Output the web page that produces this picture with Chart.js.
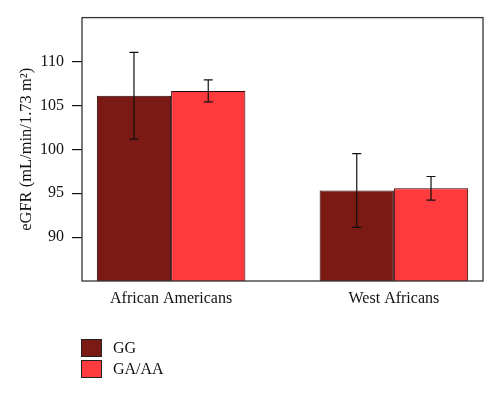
<!DOCTYPE html>
<html>
<head>
<meta charset="utf-8">
<script src="https://cdn.jsdelivr.net/npm/chart.js@4.4.1/dist/chart.umd.min.js"></script>
<style>
  body { margin: 0; background: #fff; }
  #wrap { position: relative; width: 500px; height: 393px; }
  #legend { position: absolute; left: 81px; top: 337px; font-family: "Liberation Serif", serif; font-size: 16px; color: #111; }
  .item { display: flex; align-items: center; height: 21px; }
  .box { width: 19px; height: 16px; border: 1px solid #222; margin-right: 11px; }
</style>
</head>
<body>
<div id="wrap">
  <canvas id="chart" width="500" height="393"></canvas>
  <div id="legend"></div>
</div>
<script>
// groups and where they sit on the x scale (R barplot style: 2 and 5)
const groups = ['African Americans', 'West Africans'];
const groupPos = [2, 5];
const seriesNames = ['GG', 'GA/AA'];
const ggMean = [106.1, 95.3];
const ggErr = [4.95, 4.2];
const gaMean = [106.65, 95.55];
const gaErr = [1.25, 1.35];
const yTicks = [90, 95, 100, 105, 110];
const colors = ['#7b1a15', '#fd3a3d'];

const serif = '"Liberation Serif", "Times New Roman", serif';

function toPoints(vals) {
    return vals.map((v, i) => ({ x: groupPos[i], y: v }));
}

// draws error bars with small caps
const errorBars = {
    id: 'errorBars',
    afterDatasetsDraw(chart) {
        const ctx = chart.ctx;
        const y = chart.scales.y;
        const errs = [ggErr, gaErr];
        ctx.save();
        ctx.strokeStyle = '#111';
        ctx.lineWidth = 1.2;
        chart.data.datasets.forEach((ds, d) => {
            chart.getDatasetMeta(d).data.forEach((bar, i) => {
                const v = ds.data[i].y;
                const top = y.getPixelForValue(v + errs[d][i]);
                const bot = y.getPixelForValue(v - errs[d][i]);
                ctx.beginPath();
                ctx.moveTo(bar.x, top); ctx.lineTo(bar.x, bot);
                ctx.moveTo(bar.x - 4.5, top); ctx.lineTo(bar.x + 4.5, top);
                ctx.moveTo(bar.x - 4.5, bot); ctx.lineTo(bar.x + 4.5, bot);
                ctx.stroke();
            });
        });
        ctx.restore();
    }
};

// box around the plot area
const frame = {
    id: 'frame',
    afterDraw(chart) {
        const a = chart.chartArea;
        const ctx = chart.ctx;
        ctx.save();
        ctx.strokeStyle = '#333';
        ctx.lineWidth = 1.3;
        ctx.strokeRect(a.left, a.top, a.right - a.left, a.bottom - a.top);
        ctx.restore();
    }
};

const ctx = document.getElementById('chart').getContext('2d');
new Chart(ctx, {
    type: 'bar',
    data: {
        datasets: [
            { label: seriesNames[0], data: toPoints(ggMean), backgroundColor: colors[0], borderColor: '#2a0505', borderWidth: 1 },
            { label: seriesNames[1], data: toPoints(gaMean), backgroundColor: colors[1], borderColor: '#2a0505', borderWidth: 1 }
        ]
    },
    options: {
        responsive: false,
        animation: false,
        categoryPercentage: 2 / 3,
        barPercentage: 1,
        layout: { padding: { top: 17, right: 17, left: 0, bottom: 0 } },
        plugins: {
            legend: { display: false },
            tooltip: { enabled: false }
        },
        scales: {
            x: {
                type: 'linear',
                offset: false,
                min: 0.8,
                max: 6.2,
                afterBuildTicks: s => { s.ticks = groupPos.map(v => ({ value: v })); },
                afterFit: s => { s.height = 112; },
                grid: { display: false, drawTicks: false, offset: false },
                border: { display: false },
                ticks: {
                    padding: 8,
                    color: '#111',
                    font: { family: serif, size: 16 },
                    callback: v => groups[groupPos.indexOf(v)]
                }
            },
            y: {
                min: 85,
                max: 115,
                afterBuildTicks: s => { s.ticks = yTicks.map(v => ({ value: v })); },
                afterFit: s => { s.width = 82; },
                grid: { drawOnChartArea: false, tickLength: 10, color: '#111', lineWidth: 1.2 },
                border: { display: false },
                ticks: { padding: 8, color: '#111', font: { family: serif, size: 16 } },
                title: {
                    display: true,
                    text: 'eGFR (mL/min/1.73 m²)',
                    color: '#111',
                    font: { family: serif, size: 16.5 },
                    padding: { top: 17, bottom: 0 }
                }
            }
        }
    },
    plugins: [errorBars, frame]
});

// simple legend, stacked like the original
const legend = document.getElementById('legend');
seriesNames.forEach((name, i) => {
    const row = document.createElement('div');
    row.className = 'item';
    const box = document.createElement('div');
    box.className = 'box';
    box.style.background = colors[i];
    const label = document.createElement('span');
    label.textContent = name;
    row.appendChild(box);
    row.appendChild(label);
    legend.appendChild(row);
});
</script>
</body>
</html>
